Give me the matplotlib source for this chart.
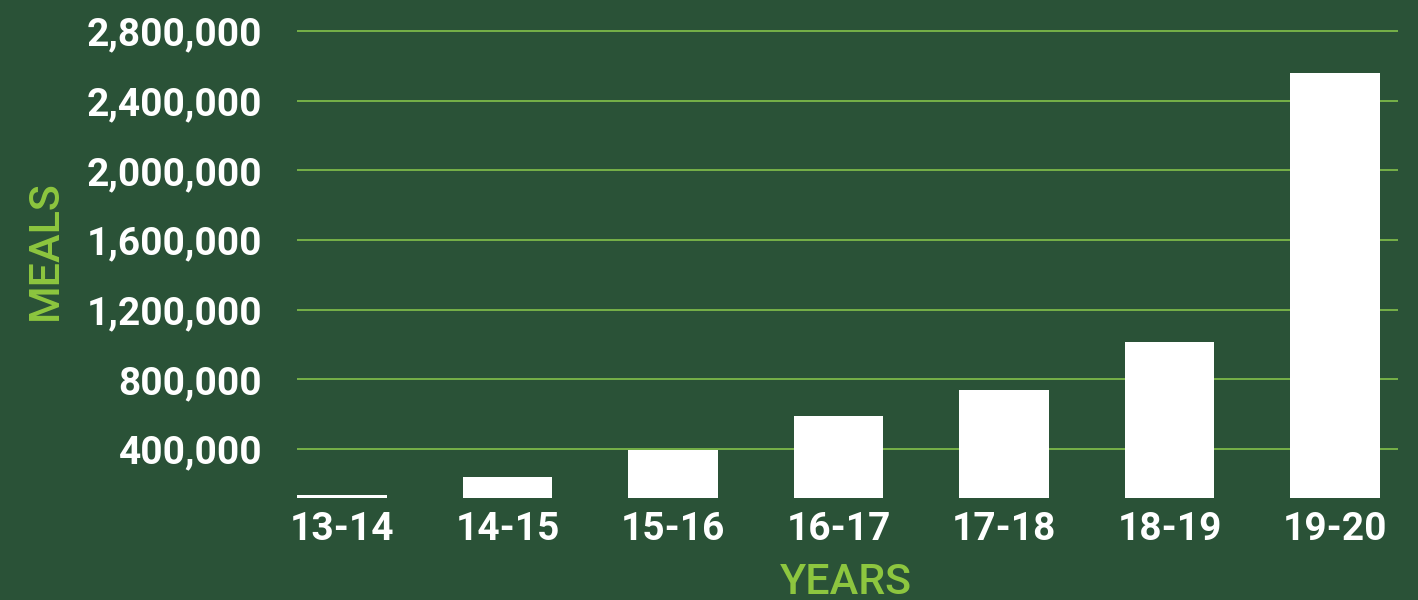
import matplotlib
matplotlib.use("Agg")
import matplotlib.pyplot as plt
from matplotlib.ticker import FuncFormatter

# Data
years = ["13-14", "14-15", "15-16", "16-17", "17-18", "18-19", "19-20"]
meals = [134000, 240000, 395000, 590000, 740000, 1015000, 2560000]
y_ticks = [400000, 800000, 1200000, 1600000, 2000000, 2400000, 2800000]

bg = "#2a5237"
grid_green = "#7db849"
label_green = "#8dc63f"

plt.rcParams['font.family'] = ['Roboto', 'DejaVu Sans']

fig = plt.figure(figsize=(14.18, 6), dpi=100, facecolor=bg)
ax = fig.add_axes([297 / 1418, 1 - 497.5 / 600, 1101 / 1418, (497.5 - 22.3) / 600])
ax.set_facecolor(bg)

x = range(len(years))
ax.bar(x, meals, width=0.54, color="white", zorder=3)

ax.set_xlim(-0.272, 6.38)
ax.set_ylim(122000, 2850000)
ax.set_yticks(y_ticks)
ax.yaxis.set_major_formatter(FuncFormatter(lambda v, p: f"{int(v):,}"))
ax.set_xticks(list(x))
ax.set_xticklabels(years)

ax.grid(axis="y", color=grid_green, linewidth=1.3, zorder=0)
ax.set_axisbelow(True)
for s in ax.spines.values():
    s.set_visible(False)

ax.tick_params(axis="both", length=0, colors="white", labelsize=28)
ax.tick_params(axis="y", pad=25)
ax.tick_params(axis="x", pad=10)
for lbl in ax.get_xticklabels() + ax.get_yticklabels():
    lbl.set_fontweight("bold")

fig.text(45 / 1418, 1 - 250 / 600, "MEALS", rotation=90, color=label_green,
         fontsize=31, fontweight="medium", ha="center", va="center")
fig.text(846 / 1418, 1 - 582 / 600, "YEARS", color=label_green,
         fontsize=31, fontweight="medium", ha="center", va="center")

fig.savefig("out.png", dpi=100, facecolor=bg)
